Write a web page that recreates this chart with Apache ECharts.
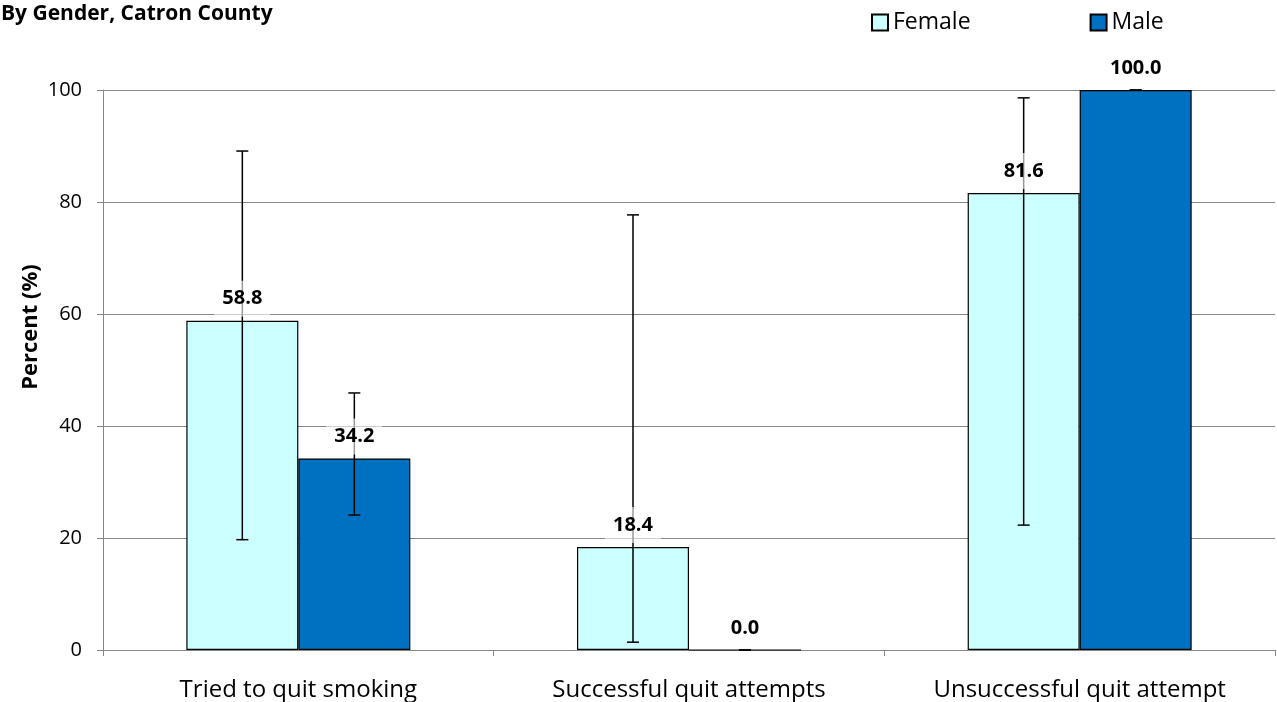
<!DOCTYPE html>
<html>
<head>
<meta charset="utf-8">
<script src="https://cdn.jsdelivr.net/npm/echarts@6/dist/echarts.min.js"></script>
<style>html,body{margin:0;padding:0;background:#fff}#c{width:1277px;height:702px}</style>
</head>
<body>
<div id="c"></div>
<script>
const categories = ['Tried to quit smoking', 'Successful quit attempts', 'Unsuccessful quit attempt'];
const seriesNames = ['Female', 'Male'];
const female = [58.8, 18.4, 81.6];
const male = [34.2, 0.0, 100.0];
const femaleLow = [19.7, 1.4, 22.3];
const femaleHigh = [89.1, 77.7, 98.6];
const maleLow = [24.1, 0.0, 100.0];
const maleHigh = [45.9, 0.0, 100.0];
const yTicks = [0, 20, 40, 60, 80, 100];

const FONT = 'Open Sans';
const BAR_W = 112;
const colors = ['#CCFFFF', '#0070C0'];

const errData = [];
[[female, femaleLow, femaleHigh], [male, maleLow, maleHigh]].forEach((arr, s) => {
  categories.forEach((c, i) => {
    errData.push([i, arr[1][i], arr[2][i], arr[0][i], s]);
  });
});

const chart = echarts.init(document.getElementById('c'), null, {renderer: 'canvas'});
chart.setOption({
  animation: false,
  textStyle: {fontFamily: FONT},
  title: {
    text: 'By Gender, Catron County',
    left: -4, top: -1,
    textStyle: {fontFamily: FONT, fontSize: 21, fontWeight: 'bold', color: '#000'}
  },
  legend: {
    data: seriesNames,
    left: 866, top: 6,
    itemWidth: 16, itemHeight: 16, itemGap: 119,
    icon: 'rect',
    textStyle: {fontFamily: FONT, fontSize: 23, color: '#000', padding: [0, 0, 0, 0]}
  },
  graphic: [{
    type: 'text',
    x: 31, y: 327,
    rotation: Math.PI / 2,
    style: {
      text: 'Percent (%)',
      align: 'center', verticalAlign: 'middle',
      fontFamily: FONT, fontSize: 22, fontWeight: 'bold', fill: '#000'
    }
  }],
  grid: {left: 103, right: 2, top: 90, bottom: 52, containLabel: false},
  xAxis: {
    type: 'category',
    data: categories,
    axisLine: {lineStyle: {color: '#868686', width: 1}},
    axisTick: {show: true, length: 6, lineStyle: {color: '#868686'}},
    axisLabel: {fontFamily: FONT, fontSize: 24, color: '#000', margin: 28}
  },
  yAxis: {
    type: 'value',
    min: yTicks[0], max: yTicks[yTicks.length - 1], interval: 20,
    axisLine: {show: true, lineStyle: {color: '#868686'}},
    axisTick: {show: true, length: 6, inside: false, lineStyle: {color: '#868686'}},
    axisLabel: {fontFamily: FONT, fontSize: 20, color: '#000', margin: 21},
    splitLine: {lineStyle: {color: '#868686', width: 1}}
  },
  series: [
    {
      name: seriesNames[0], type: 'bar', data: female, barWidth: BAR_W, barGap: '0%', z: 2,
      itemStyle: {color: colors[0], borderColor: '#000', borderWidth: 1.2}
    },
    {
      name: seriesNames[1], type: 'bar', data: male, barWidth: BAR_W, barGap: '0%', z: 2,
      itemStyle: {color: colors[1], borderColor: '#000', borderWidth: 1.2}
    },
    {
      type: 'custom', z: 5, silent: true,
      data: errData,
      encode: {x: 0, y: [1, 2]},
      renderItem: function (params, api) {
        const s = api.value(4);
        const cx = api.coord([api.value(0), 0])[0] + (s === 0 ? -1 : 1) * BAR_W / 2;
        const yl = api.coord([api.value(0), api.value(1)])[1];
        const yh = api.coord([api.value(0), api.value(2)])[1];
        const yv = api.coord([api.value(0), api.value(3)])[1];
        const cap = 6;
        const ls = {stroke: '#000', lineWidth: 1.5};
        return {
          type: 'group',
          children: [
            {type: 'line', shape: {x1: cx, y1: yl, x2: cx, y2: yh}, style: ls, z2: 1},
            {type: 'line', shape: {x1: cx - cap, y1: yh, x2: cx + cap, y2: yh}, style: ls, z2: 1},
            {type: 'line', shape: {x1: cx - cap, y1: yl, x2: cx + cap, y2: yl}, style: ls, z2: 1},
            {
              type: 'text', z2: 10,
              x: cx, y: yv - 22,
              style: {
                text: api.value(3).toFixed(1),
                x: 0, y: 0,
                align: 'center', verticalAlign: 'middle',
                fontFamily: FONT, fontSize: 20, fontWeight: 'bold', fill: '#000',
                backgroundColor: 'rgba(255,255,255,0.6)', padding: [8, 8]
              }
            }
          ]
        };
      }
    }
  ]
});
</script>
</body>
</html>
